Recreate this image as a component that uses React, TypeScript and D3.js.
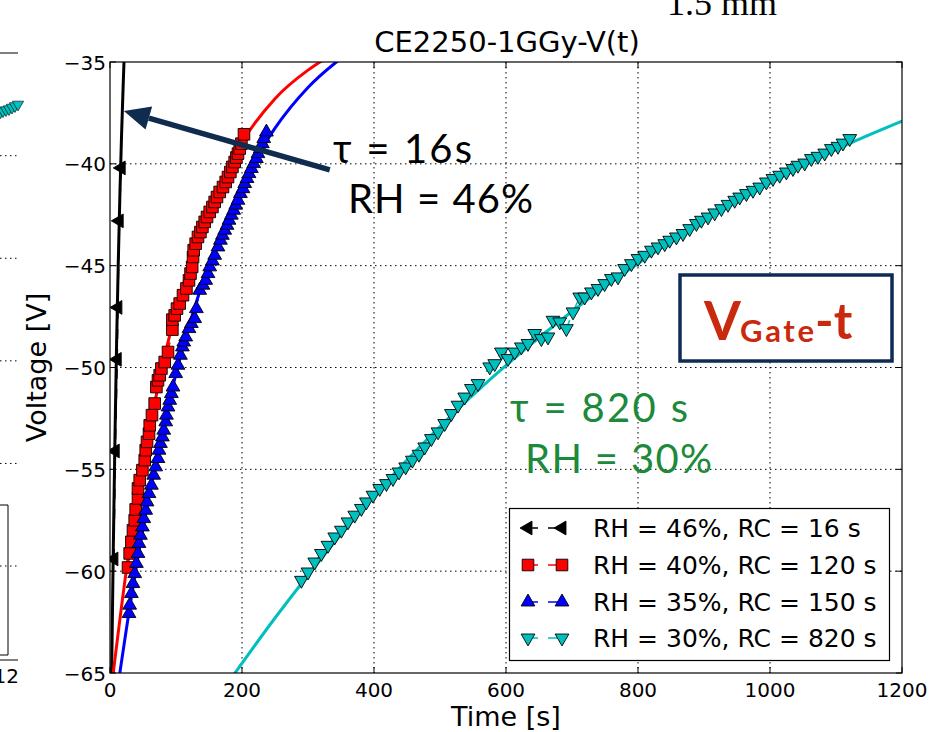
import React from "react";
import * as d3 from "d3";

const W = 932;
const H = 732;

const xTicks = [0, 200, 400, 600, 800, 1000, 1200];
const yTicks = [-35, -40, -45, -50, -55, -60, -65];
const gridX = [200, 400, 600, 800, 1000];
const gridY = [-40, -45, -50, -55, -60];

// measured points (time [s], voltage [V])
const data46: [number, number][] = [
  [6.0, -59.4], [8.0, -54.1], [11.0, -49.6], [12.0, -47.05], [14.0, -42.8], [17.0, -40.2],
];
const data40: [number, number][] = [
  [27.3, -59.82], [29.8, -59.13], [32.4, -58.56], [34.8, -57.99], [37.4, -57.5], [38.9, -56.97],
  [42.4, -56.43], [42.4, -55.94], [45.0, -55.53], [49.1, -55.04], [52.6, -54.55], [54.1, -54.06],
  [56.1, -53.65], [59.1, -53.25], [60.2, -52.84], [63.6, -52.34], [67.7, -51.77], [70.3, -50.96],
  [72.7, -50.63], [75.3, -50.38], [77.9, -50.05], [82.9, -49.73], [87.9, -49.24], [94.5, -48.14],
  [94.5, -47.65], [98.0, -47.44], [101.5, -47.11], [105.6, -46.86], [110.6, -46.45], [115.8, -46.12],
  [119.7, -45.72], [122.0, -45.39], [124.5, -45.06], [125.8, -44.57], [126.8, -44.24], [129.8, -43.92],
  [133.3, -43.59], [137.0, -43.35], [140.0, -43.1], [143.5, -42.85], [147.0, -42.61], [151.1, -42.36],
  [155.2, -42.12], [158.6, -41.87], [162.1, -41.63], [166.2, -41.38], [171.2, -41.14], [175.3, -40.89],
  [178.8, -40.65], [182.4, -40.4], [185.5, -40.15], [188.9, -39.91], [191.5, -39.69], [193.9, -39.5],
  [196.5, -39.25], [199.1, -39.01], [203.0, -38.55],
];
const data35: [number, number][] = [
  [28.8, -62.08], [29.8, -61.67], [32.4, -61.1], [34.8, -60.61], [37.4, -60.12], [40.0, -59.62],
  [42.4, -59.13], [43.9, -58.64], [46.1, -58.24], [49.1, -57.83], [51.1, -57.42], [54.1, -57.01],
  [56.1, -56.6], [59.1, -56.19], [62.7, -55.78], [66.2, -55.29], [69.2, -54.88], [72.7, -54.47],
  [74.2, -54.06], [76.4, -53.73], [79.4, -53.41], [81.4, -53.08], [84.4, -52.67], [85.5, -52.34],
  [87.9, -51.94], [90.5, -51.61], [93.0, -51.28], [95.5, -50.96], [99.5, -50.3], [103.0, -49.89],
  [106.7, -49.4], [109.7, -48.99], [111.7, -48.75], [114.7, -48.5], [119.7, -48.09], [123.3, -47.84],
  [128.3, -47.6], [130.9, -47.11], [135.9, -46.21], [140.9, -45.96], [145.0, -45.72], [148.5, -45.39],
  [151.1, -45.06], [155.2, -44.77], [158.6, -44.49], [163.6, -44.08], [167.3, -43.75], [170.3, -43.51],
  [173.8, -43.26], [177.3, -43.02], [180.3, -42.77], [183.9, -42.52], [187.4, -42.28], [190.5, -42.03],
  [193.9, -41.79], [197.6, -41.46], [201.5, -41.22], [204.1, -40.97], [207.6, -40.72], [210.6, -40.48],
  [214.2, -40.23], [217.7, -39.99], [221.8, -39.74], [224.2, -39.5], [227.9, -39.25], [230.9, -39.01],
  [232.9, -38.76], [237.0, -38.44],
];
const data30: [number, number][] = [
  [290.0, -60.45], [300.0, -60.04], [310.2, -59.55], [320.3, -59.13], [330.3, -58.73], [340.5, -58.32],
  [350.6, -57.99], [360.6, -57.58], [370.8, -57.25], [380.9, -56.92], [388.5, -56.6], [398.5, -56.27],
  [408.6, -55.94], [418.8, -55.7], [428.8, -55.45], [437.9, -55.13], [448.0, -54.88], [458.2, -54.55],
  [468.2, -54.26], [476.8, -53.9], [487.0, -53.49], [497.0, -53.16], [507.1, -52.75], [517.3, -52.26],
  [527.3, -51.85], [537.4, -51.45], [547.6, -51.03], [557.6, -50.79], [575.3, -49.97], [582.9, -49.81],
  [593.0, -49.24], [603.0, -49.56], [613.2, -49.24], [623.3, -48.99], [633.3, -48.82], [643.5, -48.33],
  [653.6, -48.58], [663.6, -48.5], [671.2, -47.68], [681.4, -47.76], [691.5, -48.09], [701.5, -47.27],
  [711.7, -46.54], [719.2, -46.54], [729.4, -46.29], [739.4, -46.12], [749.5, -45.88], [759.7, -45.63],
  [769.7, -45.55], [779.8, -45.14], [790.0, -44.9], [800.0, -44.65], [810.2, -44.49], [820.3, -44.24],
  [830.3, -44.08], [840.5, -43.92], [848.0, -43.75], [858.2, -43.59], [868.2, -43.42], [878.3, -43.18],
  [888.5, -42.93], [896.1, -42.77], [906.1, -42.61], [916.2, -42.41], [926.4, -42.2], [936.4, -41.99],
  [946.5, -41.79], [954.1, -41.63], [964.2, -41.46], [974.2, -41.3], [984.4, -41.14], [994.5, -40.89],
  [1004.5, -40.72], [1014.7, -40.56], [1024.8, -40.4], [1034.8, -40.23], [1042.4, -40.07], [1052.6, -39.96],
  [1062.7, -39.74], [1072.7, -39.63], [1082.9, -39.47], [1093.0, -39.25], [1103.0, -39.14], [1110.6, -38.98],
  [1120.8, -38.76],
];

// fit curves
const fit46: [number, number][] = [
  [2.3, -65.5], [5, -58.9], [7.5, -53.5], [10, -48.8], [12.5, -44.9], [15, -41.5], [17.5, -38.6], [20, -36.1], [21.2, -35], [21.6, -34.6],
];
const fit40: [number, number][] = [
  [3.8, -65.3], [25, -59.9], [50, -54.8], [75, -50.6], [100, -47.2], [125, -44.5], [150, -42.25],
  [175, -40.45], [200, -38.95], [250, -36.8], [300, -35.4], [318, -35], [330, -34.75],
];
const fit35: [number, number][] = [
  [13.5, -65.3], [25, -62.8], [50, -57.9], [75, -53.8], [100, -50.3], [125, -47.4], [150, -44.9],
  [175, -42.8], [200, -41.0], [250, -38.25], [300, -36.25], [343, -35], [355, -34.7],
];
const fit30: [number, number][] = [
  [185, -65.2], [250, -62.3], [300, -60.2], [400, -56.3], [500, -52.9], [600, -49.9], [700, -47.25],
  [800, -44.9], [900, -42.8], [1000, -40.95], [1100, -39.3], [1200, -37.9],
];

const seriesLabels = [
  "RH = 46%, RC = 16 s",
  "RH = 40%, RC = 120 s",
  "RH = 35%, RC = 150 s",
  "RH = 30%, RC = 820 s",
];
const seriesColors = ["#000000", "#ff0000", "#0000ff", "#00bfbf"];
const seriesMarkers = ["left", "square", "up", "down"];
const seriesData = [data46, data40, data35, data30];
const seriesFits = [fit46, fit40, fit35, fit30];

// neighbouring (cut-off) panel at the left edge
const neighbourGridY = [1, 2, 3, 4, 5];
const neighbourCyan: [number, number][] = [
  [0.5, 0.575], [3, 0.565], [6, 0.555], [9, 0.545], [12, 0.53], [15, 0.515], [18, 0.5],
];

const x = d3.scaleLinear().domain([0, 1200]).range([110, 902]);
const y = d3.scaleLinear().domain([-65, -35]).range([673, 62]);
const ny = d3.scaleLinear().domain([1, 5]).range([155.7, 566]);

const FONT = "'DejaVu Sans', sans-serif";
const HUMAN = "Lato, 'Open Sans', sans-serif";

const triPath = d3.symbol().type(d3.symbolTriangle).size(82)() as string;
const sqPath = d3.symbol().type(d3.symbolSquare).size(135)() as string;
const smallTri = d3.symbol().type(d3.symbolTriangle).size(55)() as string;

function Marker({ kind, cx, cy, color }: { kind: string; cx: number; cy: number; color: string }) {
  const rot = kind === "left" ? -90 : kind === "down" ? 180 : 0;
  const d = kind === "square" ? sqPath : triPath;
  return (
    <path
      d={d}
      transform={`translate(${cx},${cy}) rotate(${rot})`}
      fill={color}
      stroke="#000"
      strokeWidth={0.9}
    />
  );
}

export default function App() {
  const fitLine = d3
    .line<[number, number]>()
    .x((d) => x(d[0]))
    .y((d) => y(d[1]))
    .curve(d3.curveMonotoneX);
  const dataLine = d3
    .line<[number, number]>()
    .x((d) => x(d[0]))
    .y((d) => y(d[1]));

  const x0 = x(0), x1 = x(1200), y0 = y(-35), y1 = y(-65);

  // arrow (data coordinates)
  const tip: [number, number] = [x(21), y(-37.4)];
  const tail: [number, number] = [x(333), y(-40.3)];
  const dx = tip[0] - tail[0], dy = tip[1] - tail[1];
  const len = Math.hypot(dx, dy);
  const ux = dx / len, uy = dy / len;
  const headL = 26, headW = 12;
  const base: [number, number] = [tip[0] - ux * headL, tip[1] - uy * headL];
  const w1: [number, number] = [base[0] - uy * headW, base[1] + ux * headW];
  const w2: [number, number] = [base[0] + uy * headW, base[1] - ux * headW];

  const legRowsY = [528, 565, 602, 638];

  return (
    <svg width={W} height={H} style={{ display: "block", position: "absolute", left: 0, top: 0, background: "#fff" }}>
      <rect x={0} y={0} width={W} height={H} fill="#fff" />
      <defs>
        <clipPath id="plotClip">
          <rect x={x0} y={y0} width={x1 - x0} height={y1 - y0} />
        </clipPath>
      </defs>

      {/* neighbouring panel fragment */}
      <g>
        <line x1={0} x2={18} y1={53} y2={53} stroke="#000" strokeWidth={1} />
        <line x1={0} x2={18} y1={660} y2={660} stroke="#000" strokeWidth={1} />
        {neighbourGridY.map((g) => (
          <line key={g} x1={0} x2={18} y1={ny(g)} y2={ny(g)} stroke="#000" strokeWidth={1} strokeDasharray="1.5,3.5" />
        ))}
        {neighbourCyan.map((p, i) => (
          <path key={i} d={smallTri} transform={`translate(${p[0]},${ny(p[1])}) rotate(180)`} fill="#00bfbf" stroke="#000" strokeWidth={0.6} />
        ))}
        <path d="M0,505 L8,505 L8,655 L0,655" fill="none" stroke="#000" strokeWidth={1} />
        <text x={19} y={683} textAnchor="end" fontFamily={FONT} fontSize={20} fill="#000">12</text>
      </g>
      <text x={777} y={15} textAnchor="end" fontFamily="'Liberation Serif', 'DejaVu Serif', serif" fontSize={36} fill="#000">1.5 mm</text>

      {/* grid */}
      {gridX.map((v) => (
        <line key={"gx" + v} x1={x(v)} x2={x(v)} y1={y0} y2={y1} stroke="#000" strokeWidth={1} strokeDasharray="1.5,3.5" />
      ))}
      {gridY.map((v) => (
        <line key={"gy" + v} x1={x0} x2={x1} y1={y(v)} y2={y(v)} stroke="#000" strokeWidth={1} strokeDasharray="1.5,3.5" />
      ))}

      {/* fits */}
      <g clipPath="url(#plotClip)">
        {seriesFits.map((f, i) => (
          <path key={"fit" + i} d={fitLine(f) as string} fill="none" stroke={seriesColors[i]} strokeWidth={3} />
        ))}
      </g>

      {/* data */}
      <g clipPath="url(#plotClip)">
        {seriesData.map((ds, i) => (
          <g key={"ds" + i}>
            <path d={dataLine(ds) as string} fill="none" stroke={seriesColors[i]} strokeWidth={1.5} strokeDasharray="10,10" />
            {ds.map((p, j) => (
              <Marker key={j} kind={seriesMarkers[i]} cx={x(p[0])} cy={y(p[1])} color={seriesColors[i]} />
            ))}
          </g>
        ))}
      </g>

      {/* frame */}
      <rect x={x0} y={y0} width={x1 - x0} height={y1 - y0} fill="none" stroke="#000" strokeWidth={1.2} />

      {/* ticks */}
      {xTicks.map((v) => (
        <g key={"xt" + v}>
          <line x1={x(v)} x2={x(v)} y1={y1} y2={y1 - 6} stroke="#000" strokeWidth={1} />
          <line x1={x(v)} x2={x(v)} y1={y0} y2={y0 + 6} stroke="#000" strokeWidth={1} />
          <text x={x(v)} y={697} textAnchor="middle" fontFamily={FONT} fontSize={20} fill="#000">{v}</text>
        </g>
      ))}
      {yTicks.map((v) => (
        <g key={"yt" + v}>
          <line x1={x0} x2={x0 + 6} y1={y(v)} y2={y(v)} stroke="#000" strokeWidth={1} />
          <line x1={x1} x2={x1 - 6} y1={y(v)} y2={y(v)} stroke="#000" strokeWidth={1} />
          <text x={106} y={y(v) + 7.5} textAnchor="end" fontFamily={FONT} fontSize={20} fill="#000">{"\u2212" + Math.abs(v)}</text>
        </g>
      ))}

      {/* title and axis labels */}
      <text x={507} y={52} textAnchor="middle" fontFamily={FONT} fontSize={29} fill="#000">CE2250-1GGy-V(t)</text>
      <text x={506} y={726} textAnchor="middle" fontFamily={FONT} fontSize={27} fill="#000">Time [s]</text>
      <text transform={`translate(46,${(y0 + y1) / 2}) rotate(-90)`} textAnchor="middle" fontFamily={FONT} fontSize={27} fill="#000">Voltage [V]</text>

      {/* arrow annotation */}
      <line x1={tail[0]} y1={tail[1]} x2={base[0]} y2={base[1]} stroke="#0f2c4e" strokeWidth={5.5} />
      <polygon points={`${tip[0]},${tip[1]} ${w1[0]},${w1[1]} ${w2[0]},${w2[1]}`} fill="#0f2c4e" />

      <text x={333} y={163} fontFamily={HUMAN} fontSize={40} fill="#000" textLength={139}>τ = 16s</text>
      <text x={348} y={213} fontFamily={HUMAN} fontSize={40} fill="#000" textLength={185}>RH = 46%</text>
      <text x={510} y={422} fontFamily={HUMAN} fontSize={40} fill="#1c8a3a" textLength={178}>τ = 820 s</text>
      <text x={525} y={473} fontFamily={HUMAN} fontSize={40} fill="#1c8a3a" textLength={187}>RH = 30%</text>

      {/* V_Gate-t box */}
      <rect x={680} y={275} width={212} height={86} fill="#fff" stroke="#0d2b55" strokeWidth={3.5} />
      <text fontFamily={HUMAN} fill="#c9290d">
        <tspan x={704} y={340} fontSize={53} fontWeight="bold">V</tspan>
        <tspan x={740} y={342} fontSize={31} fontWeight="bold" textLength={74}>Gate</tspan>
        <tspan x={815} y={339} fontSize={50} fontWeight="bold">-t</tspan>
      </text>

      {/* legend */}
      <rect x={509.5} y={508.5} width={380} height={152} fill="#fff" stroke="#000" strokeWidth={1.2} />
      {seriesLabels.map((lab, i) => (
        <g key={"leg" + i}>
          <line x1={528} x2={562} y1={legRowsY[i]} y2={legRowsY[i]} stroke={seriesColors[i]} strokeWidth={1.5} strokeDasharray="10,10" />
          <Marker kind={seriesMarkers[i]} cx={528} cy={legRowsY[i]} color={seriesColors[i]} />
          <Marker kind={seriesMarkers[i]} cx={562} cy={legRowsY[i]} color={seriesColors[i]} />
          <text x={593} y={legRowsY[i] + 9} fontFamily={FONT} fontSize={25} fill="#000">{lab}</text>
        </g>
      ))}
    </svg>
  );
}
